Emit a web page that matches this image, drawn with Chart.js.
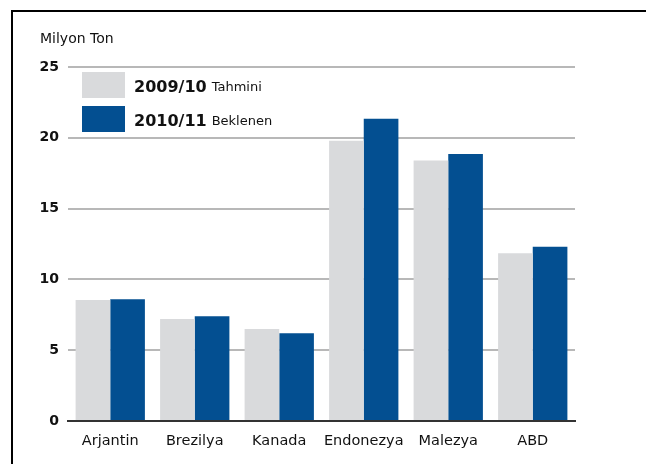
<!DOCTYPE html>
<html>
<head>
<meta charset="utf-8">
<script src="https://cdn.jsdelivr.net/npm/chart.js@4/dist/chart.umd.min.js"></script>
<style>
html,body{margin:0;padding:0;background:#fff;}
#wrap{width:646px;height:464px;position:relative;}
</style>
</head>
<body>
<div id="wrap"><canvas id="c" width="646" height="464"></canvas></div>
<script>
const categories = ['Arjantin','Brezilya','Kanada','Endonezya','Malezya','ABD'];
const seriesYears = ['2009/10','2010/11'];
const seriesNotes = ['Tahmini','Beklenen'];
const values2009 = [8.55, 7.2, 6.5, 19.8, 18.4, 11.85];
const values2010 = [8.6, 7.4, 6.2, 21.35, 18.85, 12.3];
const yTicks = [0, 5, 10, 15, 20, 25];
const unitLabel = 'Milyon Ton';
const colors = ['#d9dadc', '#034f91'];
const FONT = '"DejaVu Sans", Verdana, sans-serif';

const decor = {
  id: 'decor',
  beforeDraw(chart) {
    const ctx = chart.ctx;
    ctx.save();
    ctx.fillStyle = '#fff';
    ctx.fillRect(0, 0, chart.width, chart.height);
    ctx.strokeStyle = '#000';
    ctx.lineWidth = 2;
    ctx.beginPath();
    ctx.moveTo(11, 11); ctx.lineTo(chart.width, 11);
    ctx.moveTo(12, 10); ctx.lineTo(12, chart.height);
    ctx.stroke();
    ctx.fillStyle = '#111';
    ctx.font = '14px ' + FONT;
    ctx.textBaseline = 'middle';
    ctx.textAlign = 'left';
    ctx.fillText(unitLabel, 40, 39);
    ctx.restore();
  },
  afterDatasetsDraw(chart) {
    const ctx = chart.ctx;
    const a = chart.chartArea;
    ctx.save();
    chart.data.datasets.forEach((ds, i) => {
      const bx = a.left + 14, by = a.top + 5 + i * 34;
      ctx.fillStyle = ds.backgroundColor;
      ctx.fillRect(bx, by, 43, 26);
      ctx.fillStyle = '#111';
      ctx.textBaseline = 'alphabetic';
      ctx.textAlign = 'left';
      ctx.font = 'bold 16px ' + FONT;
      const tx = bx + 52, ty = by + 20;
      ctx.fillText(seriesYears[i], tx, ty);
      const w = ctx.measureText(seriesYears[i]).width;
      ctx.font = '13px ' + FONT;
      ctx.fillText(seriesNotes[i], tx + w + 5, ty - 1);
    });
    ctx.restore();
  }
};

new Chart(document.getElementById('c'), {
  type: 'bar',
  data: {
    labels: categories,
    datasets: [
      { label: seriesYears[0] + ' ' + seriesNotes[0], data: values2009, backgroundColor: colors[0] },
      { label: seriesYears[1] + ' ' + seriesNotes[1], data: values2010, backgroundColor: colors[1] }
    ]
  },
  options: {
    responsive: false,
    animation: false,
    devicePixelRatio: 1,
    layout: { padding: { top: 67, right: 71, left: 0, bottom: 0 } },
    datasets: { bar: { categoryPercentage: 0.82, barPercentage: 1.0 } },
    plugins: { legend: { display: false }, tooltip: { enabled: false } },
    scales: {
      x: {
        grid: { display: false },
        border: { display: true, color: '#333', width: 2 },
        ticks: { color: '#111', padding: 4, maxRotation: 0, minRotation: 0, autoSkip: false, font: { size: 14.5, family: FONT } },
        afterFit(s) { s.height = 43; }
      },
      y: {
        min: 0, max: 25,
        afterBuildTicks(s) { s.ticks = yTicks.map(v => ({ value: v })); },
        grid: { color: '#b8b8b8', lineWidth: 2, drawTicks: false },
        border: { display: false },
        ticks: { color: '#111', padding: 9, font: { size: 14, weight: 'bold', family: FONT } },
        afterFit(s) { s.width = 68; }
      }
    }
  },
  plugins: [decor]
});
</script>
</body>
</html>
